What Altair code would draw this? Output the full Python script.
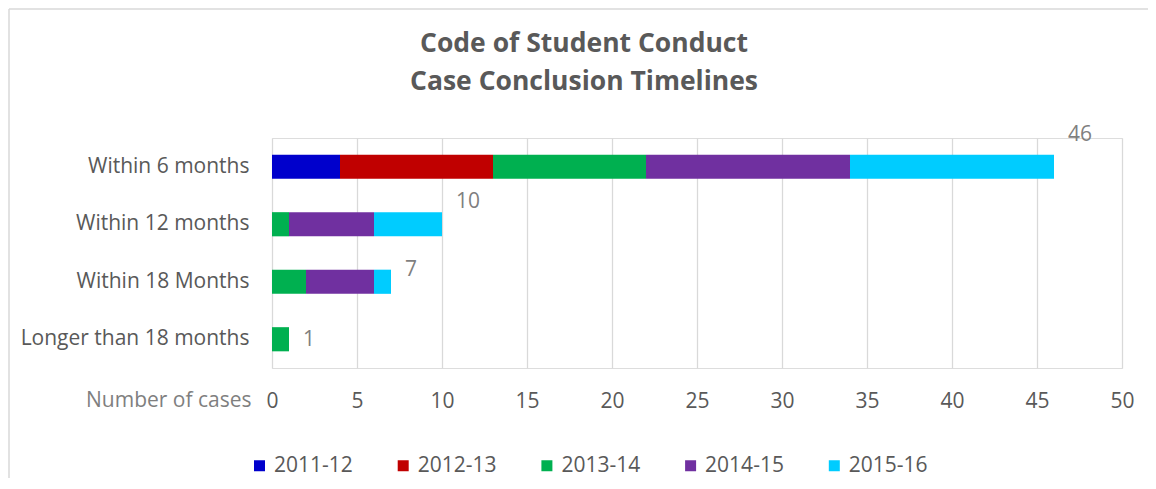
import altair as alt
import pandas as pd

categories = ["Within 6 months", "Within 12 months", "Within 18 Months", "Longer than 18 months"]
years = ["2011-12", "2012-13", "2013-14", "2014-15", "2015-16"]
v_2011_12 = [4, 0, 0, 0]
v_2012_13 = [9, 0, 0, 0]
v_2013_14 = [9, 1, 2, 1]
v_2014_15 = [12, 5, 4, 0]
v_2015_16 = [12, 4, 1, 0]
x_ticks = [0, 5, 10, 15, 20, 25, 30, 35, 40, 45, 50]
colors = ["#0000CC", "#C00000", "#00B050", "#7030A0", "#00CCFF"]
title_lines = ["Code of Student Conduct", "Case Conclusion Timelines"]

series = [v_2011_12, v_2012_13, v_2013_14, v_2014_15, v_2015_16]
rows = []
for yi, (yr, vals) in enumerate(zip(years, series)):
    for ci, cat in enumerate(categories):
        if vals[ci] > 0:
            rows.append({"cat": cat, "year": yr, "value": vals[ci], "ord": yi})
df = pd.DataFrame(rows)

FONT = "Open Sans"
DARK = "#595959"
LIGHT = "#7f7f7f"
GRID = "#d9d9d9"

base = alt.Chart(df)

y_enc = alt.Y(
    "cat:N",
    sort=categories,
    scale=alt.Scale(paddingInner=0.58, paddingOuter=0.29),
    axis=alt.Axis(
        title=None, ticks=False, domain=False, grid=False,
        labelPadding=23, labelFontSize=21, labelColor=DARK, labelFont=FONT, labelLimit=400,
    ),
)

bars = base.mark_bar().encode(
    x=alt.X(
        "value:Q",
        stack="zero",
        scale=alt.Scale(domain=[0, 50], nice=False),
        axis=alt.Axis(
            values=x_ticks, grid=True, gridColor=GRID, gridWidth=1.3,
            ticks=False, domain=False, labelFlush=False,
            labelPadding=22, labelFontSize=21, labelColor=DARK, labelFont=FONT,
            title="Number of cases", titleFont=FONT, titleFontSize=21, titleFontWeight="normal",
            titleColor=LIGHT, titleAngle=0, titleAlign="right", titleBaseline="alphabetic",
            titleX=-21, titleY=38.5,
        ),
    ),
    y=y_enc,
    color=alt.Color(
        "year:N",
        scale=alt.Scale(domain=years, range=colors),
        legend=alt.Legend(
            title=None, orient="none", legendX=-23, legendY=317,
            direction="horizontal", columns=5, columnPadding=39.7,
            symbolType="square", symbolSize=121, symbolStrokeWidth=0,
            labelFontSize=21, labelColor=DARK, labelFont=FONT, labelOffset=4,
        ),
    ),
    order=alt.Order("ord:Q", sort="ascending"),
)

cat_list = "[" + ",".join("'" + c + "'" for c in categories) + "]"
labels = base.transform_aggregate(
    total="sum(value)", groupby=["cat"]
).transform_calculate(
    rise="[-20, -10, 0, 13][indexof(" + cat_list + ", datum.cat)]"
).mark_text(
    align="left", baseline="middle", dx=14, fontSize=21, font=FONT, color=LIGHT
).encode(
    x=alt.X("total:Q"),
    y=alt.Y("cat:N", sort=categories),
    yOffset=alt.YOffset("rise:Q", scale=None),
    text=alt.Text("total:Q"),
)

frame_df = pd.DataFrame({"k": [0]})
frame_top = alt.Chart(frame_df).mark_rule(color=GRID, strokeWidth=1.5).encode(
    x=alt.value(-263), x2=alt.value(876), y=alt.value(-129)
)
frame_left = alt.Chart(frame_df).mark_rule(color=GRID, strokeWidth=1.5).encode(
    x=alt.value(-263), y=alt.value(-129), y2=alt.value(343)
)

title_mark = alt.Chart(frame_df).mark_text(
    font=FONT, fontSize=26.5, fontWeight="bold", color=DARK,
    align="center", baseline="alphabetic", lineHeight=38.3,
).encode(
    x=alt.value(312), y=alt.value(-86), text=alt.value(title_lines)
)

chart = alt.layer(bars, labels, frame_top, frame_left, title_mark).properties(
    width=850,
    height=230,
    autosize="none",
    padding={"left": 264, "top": 130, "right": 26, "bottom": 110},
).configure_view(stroke=None).configure(background="white")

chart.save("out.html", embed_options={"renderer": "svg", "actions": False})
